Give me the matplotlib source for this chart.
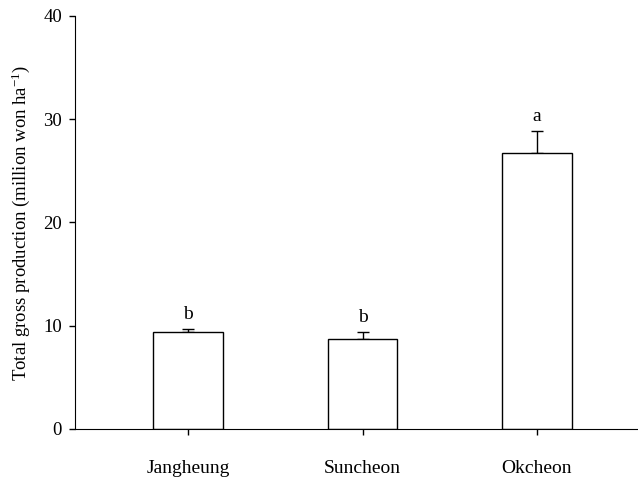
import matplotlib
matplotlib.use("Agg")
import matplotlib.pyplot as plt

# Total gross production per site
sites = ["Jangheung", "Suncheon", "Okcheon"]
production = [9.42, 8.75, 26.7]
errors = [0.29, 0.61, 2.15]
letters = ["b", "b", "a"]

plt.rcParams["font.family"] = "Liberation Serif"
plt.rcParams["mathtext.fontset"] = "custom"
plt.rcParams["mathtext.rm"] = "Liberation Serif"
plt.rcParams["mathtext.it"] = "Liberation Serif:italic"

fig = plt.figure(figsize=(6.38, 4.79), dpi=100)
ax = fig.add_axes([0.1176, 0.1044, 0.8824, 0.8622])

x = range(len(sites))
ax.bar(x, production, width=0.4, color="white", edgecolor="black", linewidth=1.0, zorder=2)
ax.errorbar(x, production, yerr=[[0] * len(errors), errors], fmt="none",
            ecolor="black", elinewidth=1.0, capsize=4.5, capthick=1.0, zorder=1)

# significance letters above the error bars
for xi, v, e, lab in zip(x, production, errors, letters):
    ax.text(xi, v + e + 0.6, lab, ha="center", va="bottom", fontsize=14)

ax.set_xlim(-0.65, 2.58)
ax.set_ylim(0, 40)
ax.set_yticks([0, 10, 20, 30, 40])
ax.set_xticks(list(x))
ax.set_xticklabels(sites)
ax.tick_params(axis="x", length=4.3, width=1.0, pad=18, labelsize=14)
ax.tick_params(axis="y", length=4.3, width=1.0, pad=5, labelsize=13.5)
ax.spines["top"].set_visible(False)
ax.spines["right"].set_visible(False)
ax.set_ylabel("Total gross production (million won ha$^{-1}$)", fontsize=13.5, labelpad=8)

fig.savefig("out.png", dpi=100)
